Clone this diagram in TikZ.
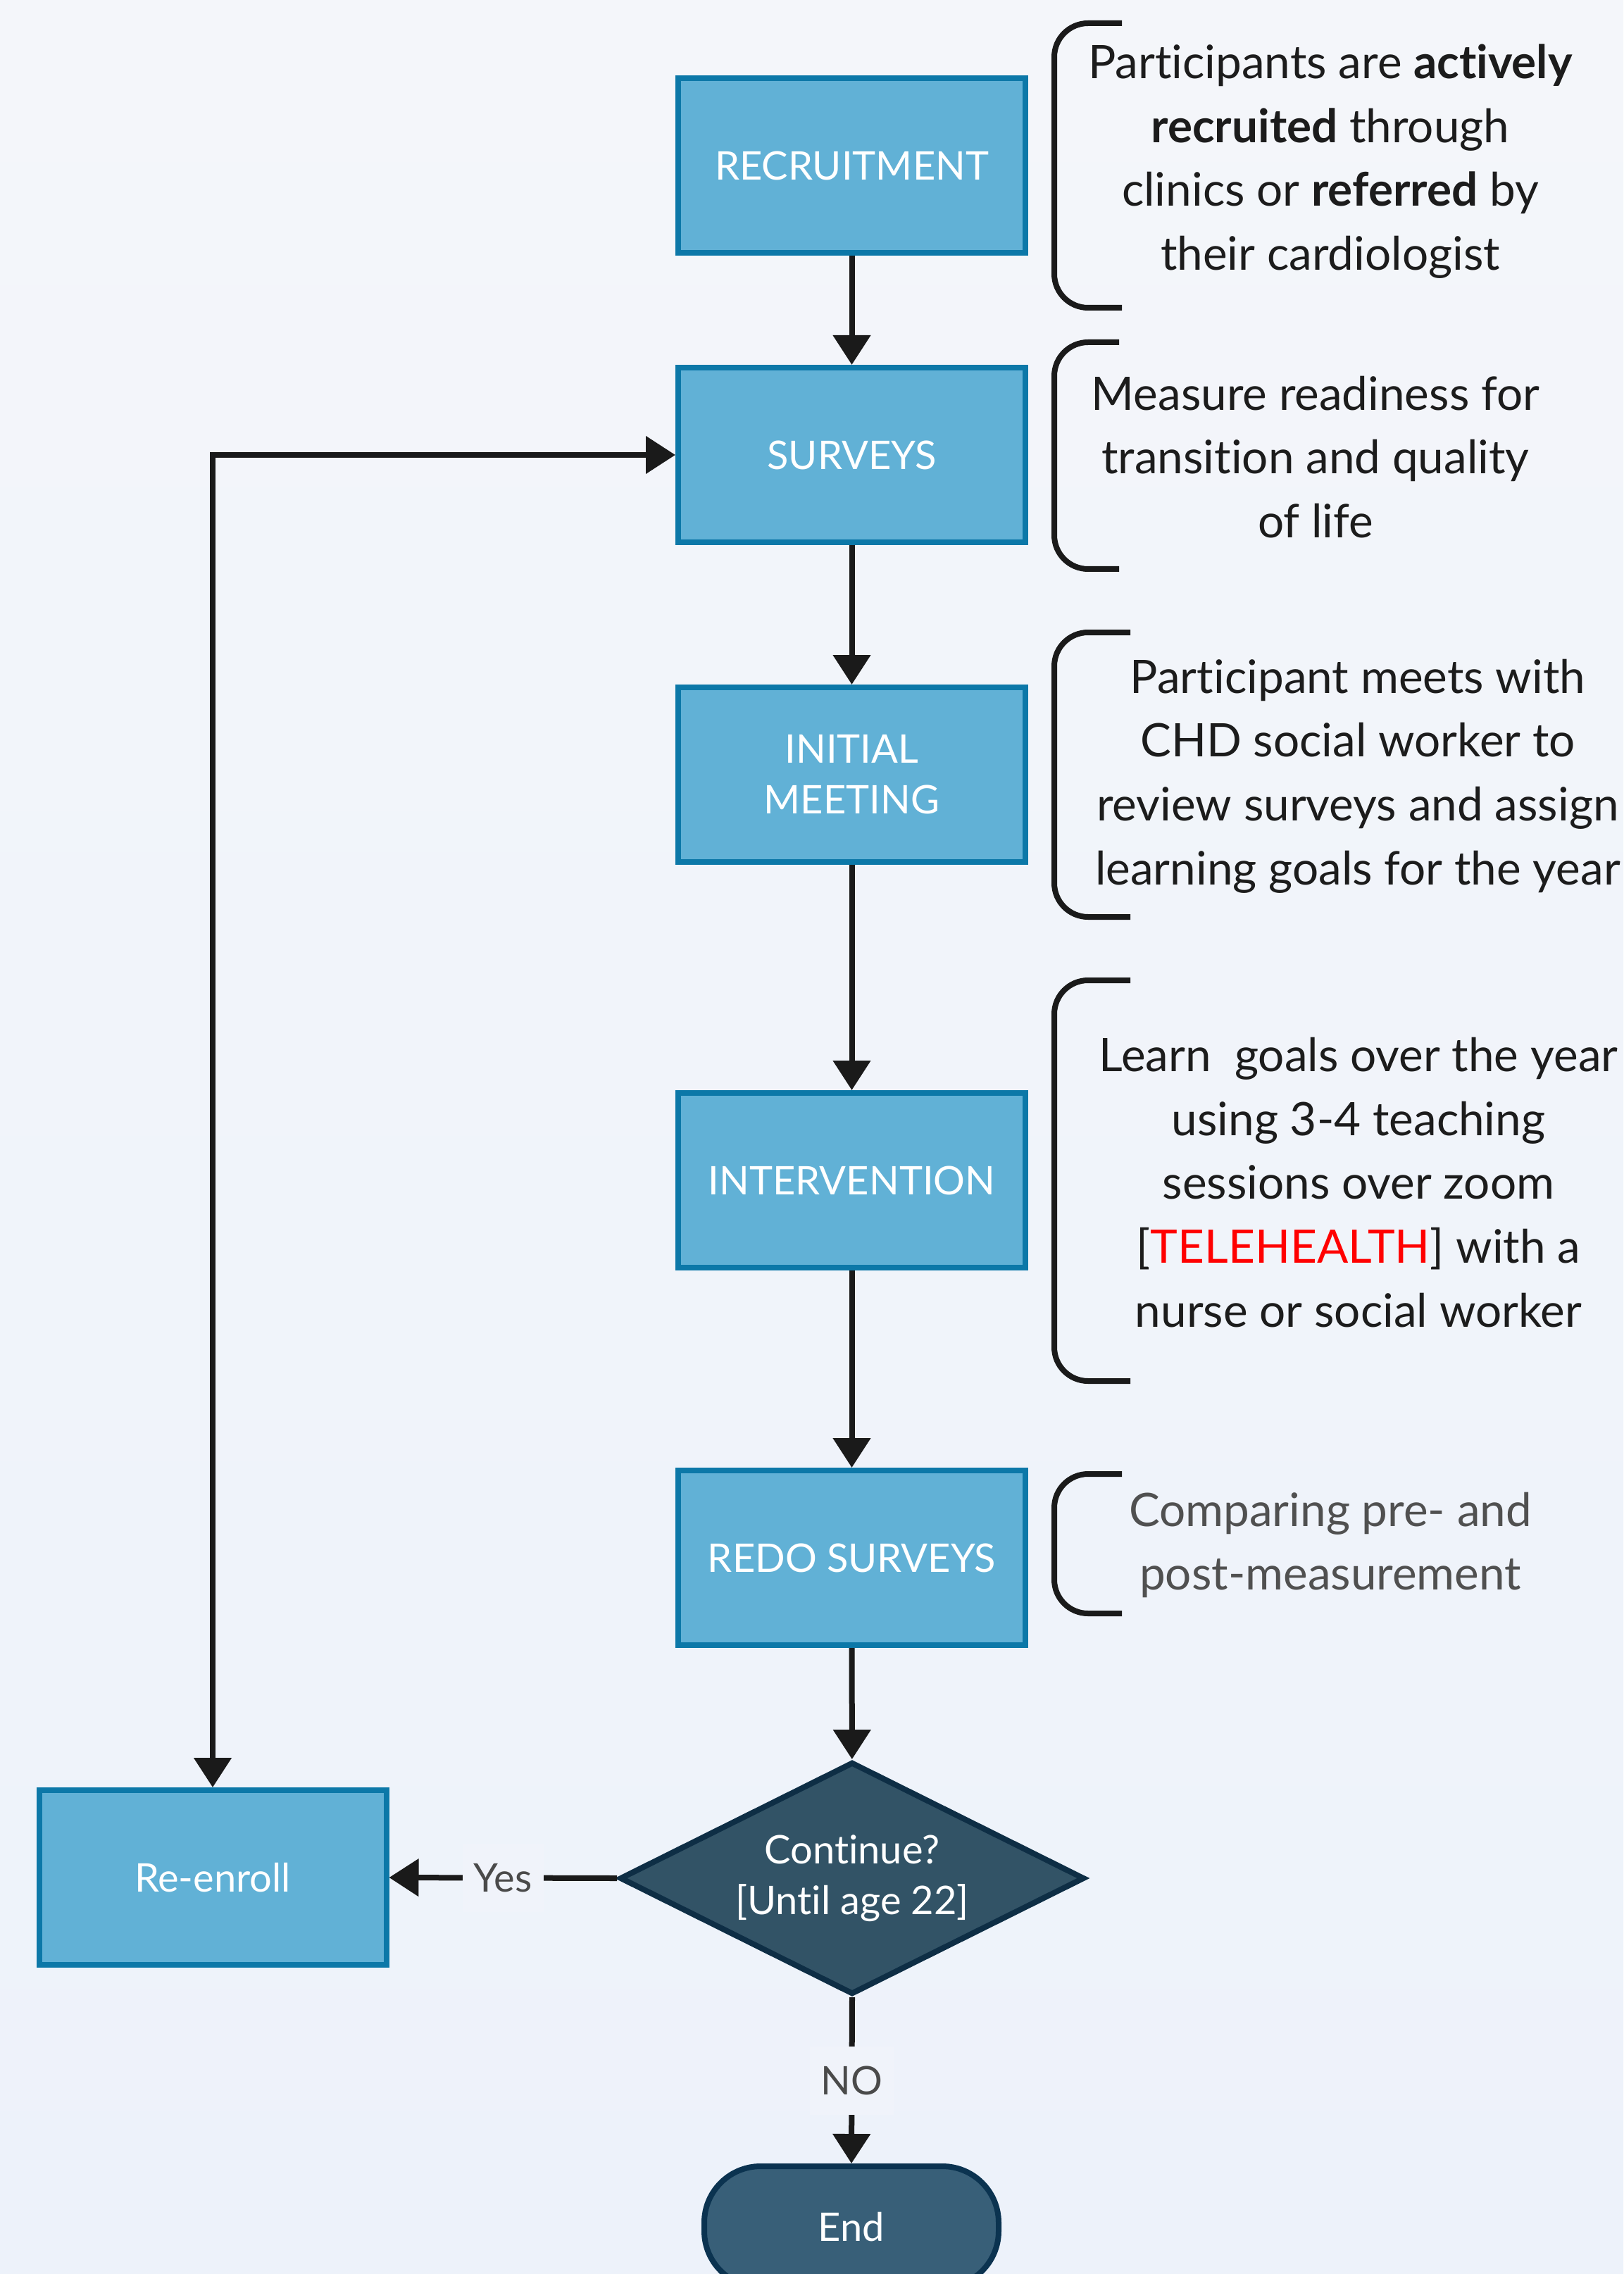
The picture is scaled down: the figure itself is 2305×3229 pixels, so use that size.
\documentclass[tikz,border=0pt]{standalone}
\usepackage{fontspec}
\setmainfont{Lato}[Ligatures=NoCommon]
\usetikzlibrary{arrows.meta,shapes.geometric}

\tikzset{
  stepbox/.style={draw={rgb, 255:red, 12; green, 120; blue, 168}, fill={rgb, 255:red, 97; green, 177; blue, 214}, line width=2pt, minimum width=123.25pt, minimum height=62pt, inner sep=0pt, align=center, text=white, font=\fontsize{14}{18}\selectfont},
  decision/.style={diamond, aspect=2, draw={rgb, 255:red, 14; green, 46; blue, 69}, fill={rgb, 255:red, 50; green, 83; blue, 102}, line width=2pt, minimum width=165pt, minimum height=82.5pt, inner sep=0pt, align=center, text=white, font=\fontsize{14}{18}\selectfont},
  terminal/.style={rounded corners=20pt, draw={rgb, 255:red, 11; green, 51; blue, 80}, fill={rgb, 255:red, 56; green, 95; blue, 120}, line width=2pt, minimum width=104.5pt, minimum height=43pt, inner sep=0pt, text=white, font=\fontsize{14}{18}\selectfont},
  note/.style={align=center, inner sep=0pt, text={rgb, 255:red, 28; green, 28; blue, 28}, font=\fontsize{16.4}{22.65}\selectfont},
  lbl/.style={fill={rgb, 255:red, 240; green, 243; blue, 250}, inner xsep=4pt, inner ysep=7pt, text={rgb, 255:red, 74; green, 74; blue, 74}, font=\fontsize{14}{18}\selectfont},
  flow/.style={-{Triangle[length=10.5pt,width=13pt]}, line width=2pt, draw={rgb, 255:red, 26; green, 26; blue, 26}},
  brace/.style={line width=2pt, rounded corners=12pt, draw={rgb, 255:red, 26; green, 26; blue, 26}}
}

\begin{document}
\begin{tikzpicture}[x=0.25pt,y=0.25pt,yscale=-1,xscale=1]
\useasboundingbox (0,0) rectangle (2305,3229);

%Shape: Background
\shade [top color={rgb, 255:red, 244; green, 246; blue, 250}, bottom color={rgb, 255:red, 237; green, 242; blue, 250}] (0,0) rectangle (2305,3229);

%Shape: Rectangle [id:rec]
\node [stepbox] (rec) at (1209.5,235) {RECRUITMENT};
%Shape: Rectangle [id:surv]
\node [stepbox] (surv) at (1209.5,646) {SURVEYS};
%Shape: Rectangle [id:init]
\node [stepbox] (init) at (1209.5,1100) {INITIAL\\MEETING};
%Shape: Rectangle [id:interv]
\node [stepbox] (interv) at (1209.5,1676) {INTERVENTION};
%Shape: Rectangle [id:redo]
\node [stepbox] (redo) at (1209.5,2212) {REDO SURVEYS};
%Shape: Diamond [id:cont]
\node [decision] (cont) at (1210,2667) {Continue?\\{[Until age 22]}};
%Shape: Rectangle [id:reen]
\node [stepbox] (reen) at (302,2666) {Re-enroll};
%Shape: Rounded Rect [id:end]
\node [terminal] (end) at (1209,3162) {End};

%Straight Lines
\draw [flow] (rec) -- (surv);
\draw [flow] (surv) -- (init);
\draw [flow] (init) -- (interv);
\draw [flow] (interv) -- (redo);
\draw [flow] (redo) -- (cont);
\draw [flow] (cont.west) -- node [lbl] (yes) {Yes} (reen.east);
\draw [flow] (cont.south) -- node [lbl] (no) {NO} (end.north);
\draw [flow, {Triangle[length=10.5pt,width=13pt]}-{Triangle[length=10.5pt,width=13pt]}] (reen.north) |- (surv.west);

%Shape: Brackets
\draw [brace] (1593,33) -- (1497,33) -- (1497,437) -- (1593,437);
\draw [brace] (1589,486) -- (1497,486) -- (1497,808) -- (1589,808);
\draw [brace] (1605,898) -- (1497,898) -- (1497,1302) -- (1605,1302);
\draw [brace] (1605,1392) -- (1497,1392) -- (1497,1961) -- (1605,1961);
\draw [brace] (1593,2093) -- (1497,2093) -- (1497,2291) -- (1593,2291);

% Text Node
\node [note] (noteRec) at (1889,229) {Participants are \textbf{actively}\\\textbf{recruited} through\\clinics or \textbf{referred} by\\their cardiologist};
% Text Node
\node [note] (noteSurv) at (1868,649) {Measure readiness for\\transition and quality\\of life};
% Text Node
\node [note] (noteInit) at (1928,1102) {Participant meets with\\CHD social worker to\\review surveys and assign\\learning goals for the year};
% Text Node
\node [note] (noteInterv) at (1929,1679) {Learn\ \ goals over the year\\using 3-4 teaching\\sessions over zoom\\{[}\textcolor{red}{TELEHEALTH}] with a\\nurse or social worker};
% Text Node
\node [note, text={rgb, 255:red, 80; green, 80; blue, 80}] (noteRedo) at (1889,2194) {Comparing pre- and\\post-measurement};

\end{tikzpicture}
\end{document}
